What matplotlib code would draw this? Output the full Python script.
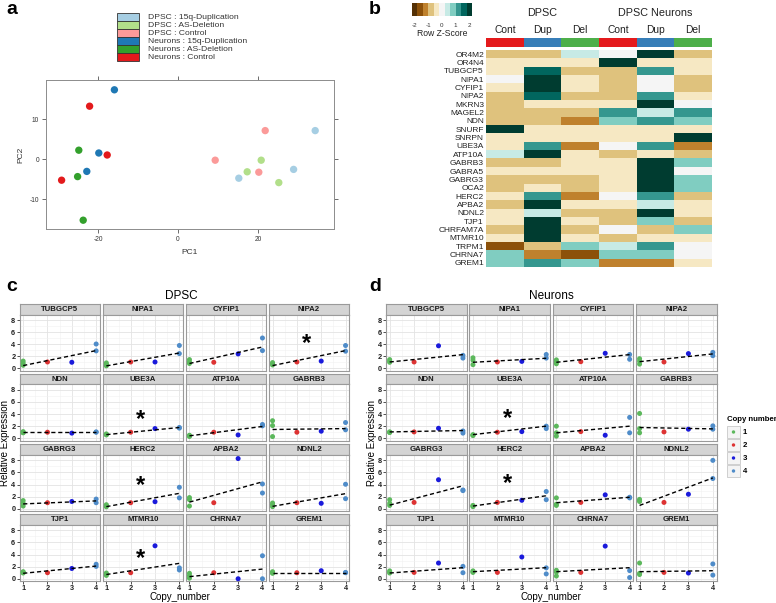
import numpy as np
import matplotlib
matplotlib.use("Agg")
import matplotlib.pyplot as plt
from matplotlib.colors import ListedColormap, BoundaryNorm, to_rgb
from matplotlib.patches import Rectangle

plt.rcParams.update({
    "font.family": ["Liberation Sans", "DejaVu Sans"],
    "axes.unicode_minus": False,
})

# ---------------- data: panel a (PCA) ----------------
pca_groups = ["DPSC : 15q-Duplication", "DPSC : AS-Deletion", "DPSC : Control",
              "Neurons : 15q-Duplication", "Neurons : AS-Deletion", "Neurons : Control"]
pca_colors = ["#A6CEE3", "#B2DF8A", "#FB9A99", "#1F78B4", "#33A02C", "#E31A1C"]
pc1 = [[15.2, 28.9, 34.3], [17.3, 20.8, 25.2], [9.3, 21.8, 20.2],
       [-15.9, -19.8, -22.8], [-24.8, -25.1, -23.7], [-22.1, -17.7, -29.1]]
pc2 = [[-4.8, -2.6, 7.1], [-3.2, -0.3, -5.9], [-0.3, 7.1, -3.3],
       [17.3, 1.5, -3.1], [2.2, -4.4, -15.3], [13.2, 1.0, -5.3]]

# ---------------- data: panel b (heatmap, row z-scores) ----------------
heat_genes = ["OR4M2", "OR4N4", "TUBGCP5", "NIPA1", "CYFIP1", "NIPA2", "MKRN3", "MAGEL2",
              "NDN", "SNURF", "SNRPN", "UBE3A", "ATP10A", "GABRB3", "GABRA5", "GABRG3",
              "OCA2", "HERC2", "APBA2", "NDNL2", "TJP1", "CHRFAM7A", "MTMR10", "TRPM1",
              "CHRNA7", "GREM1"]
heat_cols = ["Cont", "Dup", "Del", "Cont", "Dup", "Del"]
heat_col_colors = ["#E41A1C", "#377EB8", "#4DAF4A", "#E41A1C", "#377EB8", "#4DAF4A"]
heat_z = [
    [-0.8, -0.8, 0.4, 0.0, 2.0, -0.8],
    [-0.4, -0.4, -0.4, 2.0, -0.4, -0.4],
    [-0.4, 1.6, -0.8, -0.8, 1.2, -0.4],
    [0.0, 2.0, -0.4, -0.8, 0.0, -0.8],
    [-0.4, 2.0, -0.4, -0.8, 0.0, -0.8],
    [-0.8, 1.6, -0.8, -0.8, 1.2, -0.4],
    [-0.8, -0.4, -0.4, -0.4, 2.0, 0.0],
    [-0.8, -0.8, -0.8, 1.2, 0.4, 1.2],
    [-0.8, -0.8, -1.2, 0.8, 1.2, 0.8],
    [2.0, -0.4, -0.4, -0.4, -0.4, -0.4],
    [-0.4, -0.4, -0.4, -0.4, -0.4, 2.0],
    [-0.4, 1.2, -1.2, 0.0, 1.2, -1.2],
    [0.4, 2.0, -0.4, -0.8, -0.4, -0.8],
    [-0.8, -0.8, -0.4, -0.4, 2.0, 0.8],
    [-0.4, -0.4, -0.4, -0.4, 2.0, 0.0],
    [-0.8, -0.8, -0.8, -0.4, 2.0, 0.8],
    [-0.8, -0.4, -0.8, -0.4, 2.0, 0.8],
    [-0.4, 1.2, -1.2, 0.0, 1.2, -0.8],
    [-0.8, 2.0, -0.4, -0.4, 0.4, -0.4],
    [-0.4, 0.4, -0.8, -0.8, 2.0, -0.4],
    [-0.4, 2.0, -0.4, -0.8, 0.8, -0.8],
    [-0.8, 2.0, -0.8, 0.0, -0.8, 0.8],
    [-0.4, 2.0, -0.4, -0.8, -0.4, -0.4],
    [-1.6, -0.8, 0.8, 0.4, 1.2, 0.0],
    [0.8, -1.2, -1.6, 0.8, 0.8, 0.0],
    [0.8, 1.2, 0.8, -1.2, -1.2, -0.4],
]
key_colors = ["#543005", "#8C510A", "#BF812D", "#DFC27D", "#F6E8C3", "#F5F5F5",
              "#C7EAE5", "#80CDC1", "#35978F", "#01665E", "#003C30"]
key_ticks = [-2, -1, 0, 1, 2]

# ---------------- data: panels c / d (relative expression by copy number) ----------------
facet_genes = ["TUBGCP5", "NIPA1", "CYFIP1", "NIPA2", "NDN", "UBE3A", "ATP10A", "GABRB3",
               "GABRG3", "HERC2", "APBA2", "NDNL2", "TJP1", "MTMR10", "CHRNA7", "GREM1"]
copy_numbers = [1, 2, 3, 4]
copy_colors = ["#5CB85C", "#DD3333", "#1A1ADB", "#4F8CC9"]

dpsc_cn1 = [[1.2, 0.85, 0.5], [0.9, 0.65, 0.4], [1.45, 1.05, 0.8], [0.95, 0.72, 0.55],
            [1.1, 0.95, 0.9], [0.72, 0.62, 0.55], [0.5, 0.38, 0.3], [2.9, 2.1, 0.28],
            [1.35, 0.9, 0.45], [0.67, 0.45, 0.32], [1.85, 1.5, 0.45], [0.95, 0.67, 0.35],
            [1.17, 1.05, 0.95], [0.95, 0.72, 0.55], [0.9, 0.5, 0.1], [1.17, 1.0, 0.9]]
dpsc_cn2 = [1.05, 1.05, 1.0, 1.05, 1.0, 1.0, 1.0, 1.0, 1.0, 1.0, 1.0, 1.0, 1.0, 1.0, 1.0, 1.0]
dpsc_cn3 = [1.0, 1.05, 2.4, 1.2, 0.85, 1.6, 0.55, 1.17, 1.2, 1.17, 8.3, 0.9, 1.7, 5.45, 0.0, 1.33]
dpsc_cn4 = [[4.05, 2.9], [3.8, 2.45], [5.05, 2.95], [3.8, 2.85], [1.05, 1.0], [1.78, 1.68],
            [2.28, 2.05], [2.6, 1.4], [1.6, 1.0], [3.55, 1.8], [4.1, 2.6], [4.05, 1.67],
            [2.4, 2.05], [1.8, 1.45], [3.8, 0.0], [1.05, 1.0]]
dpsc_fit_at1 = [0.45, 0.4, 0.8, 0.45, 1.0, 0.6, 0.4, 1.45, 0.8, 0.35, 1.1, 0.4, 0.9, 0.7, 0.35, 1.0]
dpsc_fit_at4 = [2.95, 2.55, 3.55, 2.95, 1.0, 1.78, 1.95, 1.6, 1.3, 2.55, 4.45, 2.5, 2.1, 2.55, 1.6, 1.0]
dpsc_star_genes = ["NIPA2", "UBE3A", "HERC2", "MTMR10"]
dpsc_star_y = [5.1, 4.0, 4.8, 4.3]

neur_cn1 = [[1.45, 1.2, 1.0], [1.75, 1.35, 0.6], [1.4, 1.1, 0.75], [1.6, 1.2, 0.7],
            [1.05, 1.0, 0.95], [0.6, 0.5, 0.45], [2.0, 0.9, 0.35], [4.1, 1.6, 0.9],
            [1.5, 0.9, 0.55], [0.55, 0.45, 0.35], [1.8, 0.75, 0.55], [1.55, 1.35, 1.2],
            [1.3, 1.1, 0.95], [1.3, 1.15, 1.05], [1.4, 1.1, 0.45], [2.6, 0.9, 0.7]]
neur_cn2 = [1.05, 1.05, 1.1, 1.05, 1.05, 1.0, 1.1, 1.05, 1.05, 1.05, 1.05, 1.05, 1.05, 1.05, 1.05, 1.05]
neur_cn3 = [3.75, 1.15, 2.5, 2.45, 1.65, 1.1, 0.5, 1.5, 4.8, 1.4, 2.3, 2.4, 2.6, 3.6, 5.4, 0.95]
neur_cn4 = [[2.15, 1.7], [2.3, 1.7], [2.3, 1.5], [2.65, 2.1], [1.2, 0.85], [2.0, 1.6],
            [3.45, 0.9], [2.05, 1.5], [3.1, 3.0], [2.85, 1.5], [1.9, 1.8], [8.0, 5.0],
            [2.05, 1.0], [1.8, 0.8], [1.35, 0.2], [2.45, 0.6]]
neur_fit_at1 = [1.05, 1.0, 1.0, 1.1, 1.05, 0.6, 0.9, 1.78, 0.6, 0.45, 1.0, 0.55, 0.95, 1.17, 1.17, 1.17]
neur_fit_at4 = [2.28, 1.67, 2.28, 2.4, 1.28, 2.0, 2.0, 1.55, 3.8, 2.15, 1.9, 5.1, 1.83, 1.83, 1.83, 1.33]
neur_star_genes = ["UBE3A", "HERC2"]
neur_star_y = [4.2, 5.0]

# ---------------- layout helpers (pixel coordinates) ----------------
W, H = 776, 603
fig = plt.figure(figsize=(W / 100, H / 100), dpi=100)


def add_ax(x0, y0, x1, y1):
    return fig.add_axes([x0 / W, 1 - y1 / H, (x1 - x0) / W, (y1 - y0) / H])


def ftext(x, y, s, **kw):
    return fig.text(x / W, 1 - y / H, s, **kw)


# ================= panel a =================
ax = add_ax(46, 80, 334, 229)
for grp, col, xs, ys in zip(pca_groups, pca_colors, pc1, pc2):
    ax.scatter(xs, ys, s=28, color=col, edgecolors="none", zorder=3)
ax.set_xlim(-33, 39)
ax.set_ylim(-17.5, 19.75)
ax.set_xticks([-20, 0, 20])
ax.set_yticks([-10, 0, 10])
ax.tick_params(direction="out", length=3, width=0.6, color="#555555", labelsize=4.8,
               top=True, right=True, labeltop=False, labelright=False, pad=2,
               labelcolor="#333333")
for sp in ax.spines.values():
    sp.set_color("#8C8C8C")
    sp.set_linewidth(0.7)
ftext(190, 253, "PC1", fontsize=6, ha="center", va="center", color="#333333")
ftext(21, 155, "PC2", fontsize=6, ha="center", va="center", rotation=90, color="#333333")

# legend of panel a
axl = add_ax(110, 10, 260, 65)
axl.set_xlim(110, 260)
axl.set_ylim(65, 10)
axl.axis("off")
for i, (grp, col) in enumerate(zip(pca_groups, pca_colors)):
    y0 = 13 + i * 8
    axl.add_patch(Rectangle((117, y0), 22, 8, facecolor=col, edgecolor="#333333", lw=0.6))
    axl.text(148, y0 + 4.2, grp, fontsize=6.1, va="center", ha="left", color="#333333")

# ================= panel b =================
cmap = ListedColormap(key_colors)
norm = BoundaryNorm(np.linspace(-2.2, 2.2, len(key_colors) + 1), cmap.N)

axh = add_ax(486, 50, 712, 267)
axh.imshow(np.array(heat_z), cmap=cmap, norm=norm, aspect="auto", interpolation="nearest")
axh.set_xticks([])
axh.set_yticks(range(len(heat_genes)))
axh.set_yticklabels(heat_genes, fontsize=6.0, color="#222222")
axh.tick_params(axis="y", length=0, pad=1.5)
for sp in axh.spines.values():
    sp.set_visible(False)

axs = add_ax(486, 38, 712, 47)
axs.imshow(np.array([[to_rgb(c) for c in heat_col_colors]]), aspect="auto", interpolation="nearest")
axs.axis("off")

col_w = (712 - 486) / len(heat_cols)
for j, lab in enumerate(heat_cols):
    ftext(486 + (j + 0.5) * col_w, 30, lab, fontsize=7.4, ha="center", va="center", color="#222222")
ftext(486 + 1.5 * col_w, 13, "DPSC", fontsize=7.8, ha="center", va="center", color="#222222")
ftext(486 + 4.5 * col_w, 13, "DPSC Neurons", fontsize=7.8, ha="center", va="center", color="#222222")

# colour key
axk = add_ax(412, 3, 472, 16)
axk.pcolormesh(np.linspace(-2.2, 2.2, len(key_colors) + 1), [0, 1],
               np.array([np.linspace(-2.0, 2.0, len(key_colors))]), cmap=cmap, norm=norm)
axk.set_xlim(-2.2, 2.2)
axk.axis("off")
for t in key_ticks:
    ftext(412 + (t + 2.2) / 4.4 * 60, 25.5, str(t), fontsize=4.5, ha="center", va="center", color="#333333")
ftext(442, 33.5, "Row Z-Score", fontsize=6.2, ha="center", va="center", color="#222222")

# ================= panels c / d =================
row_tops = [304, 373.5, 444, 514]
row_bots = [370.5, 440.5, 511, 581]
strip_h = 10.5


def draw_facets(lefts, width, cn1, cn2, cn3, cn4, fit1, fit4, star_genes, star_y):
    for k, gene in enumerate(facet_genes):
        r, c = divmod(k, 4)
        x0, x1 = lefts[c], lefts[c] + width
        st = add_ax(x0, row_tops[r], x1, row_tops[r] + strip_h)
        st.set_facecolor("#D4D4D4")
        st.set_xticks([])
        st.set_yticks([])
        for sp in st.spines.values():
            sp.set_color("#9A9A9A")
            sp.set_linewidth(0.8)
        st.text(0.5, 0.45, gene, transform=st.transAxes, ha="center", va="center",
                fontsize=5.6, fontweight="bold", color="#1A1A1A")

        ax = add_ax(x0, row_tops[r] + strip_h, x1, row_bots[r])
        ax.set_xlim(0.85, 4.15)
        ax.set_ylim(-0.37, 8.97)
        ax.set_xticks(copy_numbers)
        ax.set_xticks([1.5, 2.5, 3.5], minor=True)
        ax.set_yticks([0, 2, 4, 6, 8])
        ax.set_yticks([1, 3, 5, 7], minor=True)
        ax.grid(True, which="major", color="#E3E3E3", lw=0.6)
        ax.grid(True, which="minor", color="#F1F1F1", lw=0.4)
        ax.set_axisbelow(True)
        for sp in ax.spines.values():
            sp.set_color("#9A9A9A")
            sp.set_linewidth(0.8)
        ax.tick_params(which="minor", length=0)
        ax.tick_params(which="major", direction="out", length=2, width=0.6, color="#333333",
                       labelsize=5.3, pad=1, labelcolor="#222222")
        ax.tick_params(axis="y", left=(c == 0), labelleft=(c == 0))
        ax.tick_params(axis="x", bottom=(r == 3), labelbottom=(r == 3))
        for lab in ax.get_xticklabels() + ax.get_yticklabels():
            lab.set_fontweight("bold")

        ax.plot([1, 4], [fit1[k], fit4[k]], color="black", lw=1.0, dashes=(3, 2), zorder=4)
        ax.scatter([1] * len(cn1[k]), cn1[k], s=13, color=copy_colors[0], edgecolors="none", zorder=3, clip_on=False)
        ax.scatter([2], [cn2[k]], s=13, color=copy_colors[1], edgecolors="none", zorder=3, clip_on=False)
        ax.scatter([3], [cn3[k]], s=13, color=copy_colors[2], edgecolors="none", zorder=3, clip_on=False)
        ax.scatter([4] * len(cn4[k]), cn4[k], s=13, color=copy_colors[3], edgecolors="none", zorder=3, clip_on=False)
        if gene in star_genes:
            ax.text(2.4, star_y[star_genes.index(gene)] - 0.9, "*", fontsize=17, fontweight="bold",
                    ha="center", va="center", color="black")


c_lefts = [19.5, 102.7, 185.8, 268.9]
d_lefts = [386.0, 469.3, 552.7, 635.9]
draw_facets(c_lefts, 80.3, dpsc_cn1, dpsc_cn2, dpsc_cn3, dpsc_cn4,
            dpsc_fit_at1, dpsc_fit_at4, dpsc_star_genes, dpsc_star_y)
draw_facets(d_lefts, 80.6, neur_cn1, neur_cn2, neur_cn3, neur_cn4,
            neur_fit_at1, neur_fit_at4, neur_star_genes, neur_star_y)

ftext(181, 296, "DPSC", fontsize=8.5, ha="center", va="center")
ftext(551, 296, "Neurons", fontsize=8.5, ha="center", va="center")
ftext(180, 597, "Copy_number", fontsize=7, ha="center", va="center")
ftext(551, 597, "Copy_number", fontsize=7, ha="center", va="center")
ftext(5, 443, "Relative Expression", fontsize=7, ha="center", va="center", rotation=90)
ftext(372, 443, "Relative Expression", fontsize=7, ha="center", va="center", rotation=90)

# legend of panel d
axq = add_ax(720, 410, 776, 482)
axq.set_xlim(720, 776)
axq.set_ylim(482, 410)
axq.axis("off")
axq.text(727, 419.5, "Copy number", fontsize=5.6, fontweight="bold", ha="left", va="center")
for i, (cn, col) in enumerate(zip(copy_numbers, copy_colors)):
    yc = 432 + i * 13
    axq.add_patch(Rectangle((727, yc - 6), 13, 12, facecolor="#F4F4F4", edgecolor="#C8C8C8", lw=0.6))
    axq.scatter([733.5], [yc], s=6, color=col, edgecolors="none", zorder=3)
    axq.text(742.5, yc, str(cn), fontsize=5.6, fontweight="bold", ha="left", va="center")

# panel letters
for lx, ly, letter in [(6, 9, "a"), (369, 9, "b"), (6, 287, "c"), (369, 287, "d")]:
    ftext(lx, ly, letter, fontsize=14, fontweight="bold", ha="left", va="center")

fig.savefig("out.png", dpi=100)
